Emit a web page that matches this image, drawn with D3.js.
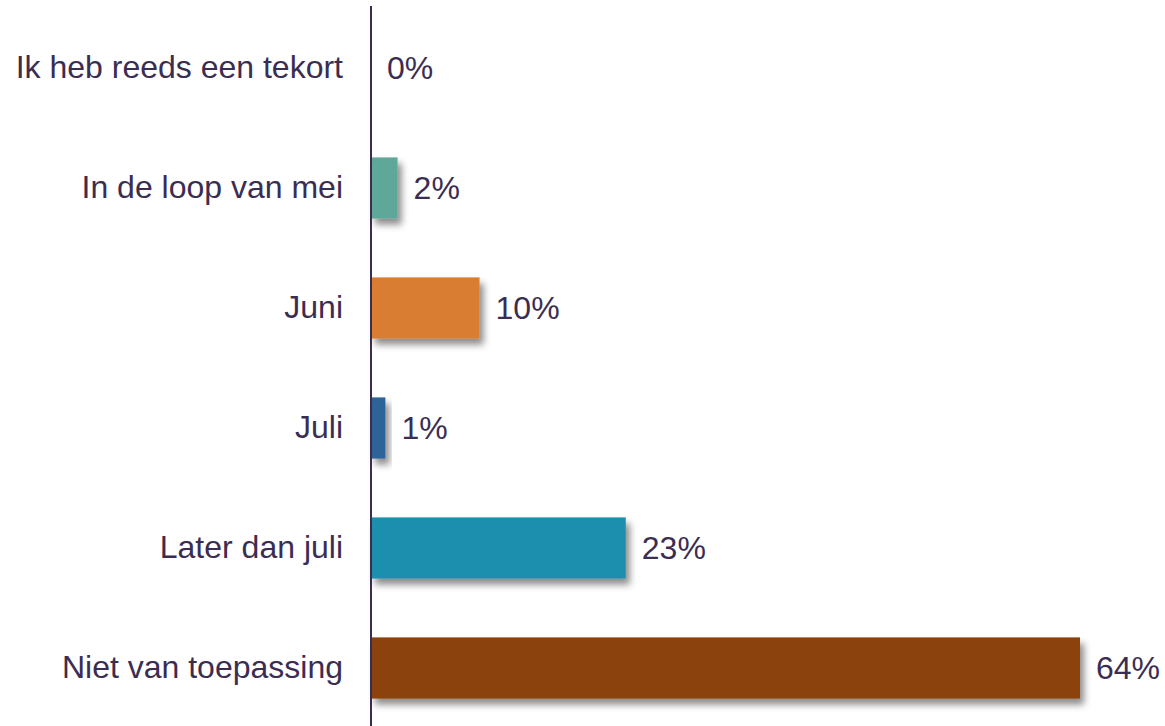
<!DOCTYPE html>
<html>
<head>
<meta charset="utf-8">
<script src="https://cdn.jsdelivr.net/npm/d3@7"></script>
<style>
  html, body { margin: 0; padding: 0; background: #ffffff; }
  svg { display: block; }
  text { font-family: "Liberation Sans", Arial, sans-serif; fill: #3b2d52; }
</style>
</head>
<body>
<div id="chart"></div>
<script>
// Categories top to bottom, estimated shares (%) and bar colours
const categories = ["Ik heb reeds een tekort", "In de loop van mei", "Juni", "Juli", "Later dan juli", "Niet van toepassing"];
const values = [0, 2.4, 9.8, 1.3, 23, 64];
const colors = ["#5fa899", "#5fa899", "#d87d33", "#2f6499", "#1f8fae", "#8b4309"];

const width = 1165, height = 726;
const axisX = 371;

const svg = d3.select("#chart").append("svg")
    .attr("width", width)
    .attr("height", height);

// Soft drop shadow under each bar
const defs = svg.append("defs");
defs.append("filter")
    .attr("id", "shadow")
    .attr("x", "-20%").attr("y", "-20%")
    .attr("width", "160%").attr("height", "160%")
    .append("feDropShadow")
    .attr("dx", 4).attr("dy", 6)
    .attr("stdDeviation", 3.5)
    .attr("flood-color", "#000")
    .attr("flood-opacity", 0.45);

const x = d3.scaleLinear().domain([0, 64]).range([axisX, 1080]);
const y = d3.scaleBand().domain(categories).range([8, 728])
    .paddingInner(0.49).paddingOuter(0.245);

const data = categories.map((c, i) => ({ cat: c, value: values[i], color: colors[i] }));

// Bars
svg.selectAll(".bar")
    .data(data.filter(d => d.value > 0))
    .join("rect")
    .attr("class", "bar")
    .attr("x", x(0))
    .attr("y", d => y(d.cat))
    .attr("width", d => x(d.value) - x(0))
    .attr("height", y.bandwidth())
    .attr("fill", d => d.color)
    .attr("filter", "url(#shadow)");

// Category labels via a left axis with the domain line removed
const yAxis = svg.append("g")
    .attr("transform", `translate(${axisX},0)`)
    .call(d3.axisLeft(y).tickSize(0).tickPadding(28));
yAxis.select(".domain").remove();
yAxis.selectAll("text")
    .style("font-family", "'Liberation Sans', Arial, sans-serif")
    .style("font-size", "32px")
    .attr("fill", "#3b2d52");

svg.append("line")
    .attr("x1", axisX).attr("x2", axisX)
    .attr("y1", 6).attr("y2", height)
    .attr("stroke", "#3b2d52")
    .attr("stroke-width", 2);

// Value labels
svg.selectAll(".value-label")
    .data(data)
    .join("text")
    .attr("class", "value-label")
    .attr("x", d => x(d.value) + 16)
    .attr("y", d => y(d.cat) + y.bandwidth() / 2)
    .attr("dy", "0.35em")
    .style("font-size", "32px")
    .text(d => Math.round(d.value) + "%");
</script>
</body>
</html>
